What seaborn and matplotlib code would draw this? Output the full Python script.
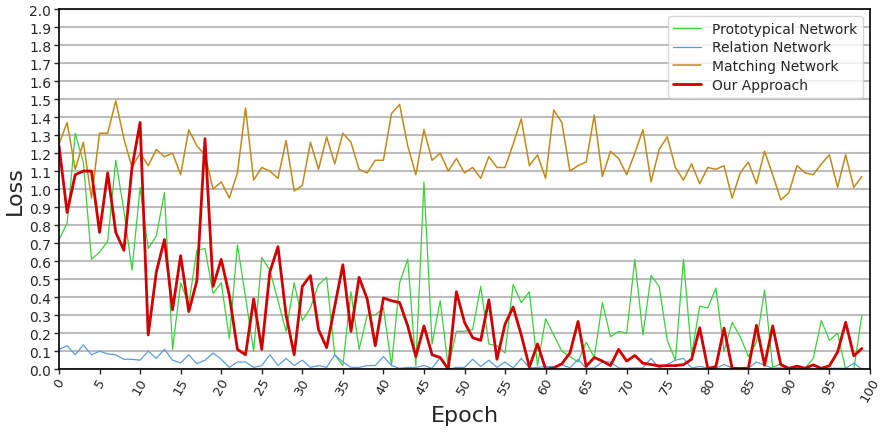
import numpy as np
import pandas as pd
import matplotlib
matplotlib.use("Agg")
import matplotlib.pyplot as plt
import seaborn as sns

epochs = list(range(100))

proto = [0.72, 0.81, 1.31, 1.15, 0.61, 0.65, 0.71, 1.16, 0.88, 0.55,
         1.01, 0.67, 0.74, 0.98, 0.11, 0.48, 0.36, 0.66, 0.67, 0.42,
         0.48, 0.17, 0.69, 0.40, 0.10, 0.62, 0.55, 0.38, 0.21, 0.48,
         0.27, 0.34, 0.47, 0.51, 0.08, 0.02, 0.43, 0.11, 0.30, 0.30,
         0.34, 0.02, 0.48, 0.61, 0.02, 1.04, 0.14, 0.38, 0.01, 0.21,
         0.21, 0.22, 0.46, 0.14, 0.13, 0.09, 0.47, 0.37, 0.43, 0.02,
         0.28, 0.19, 0.10, 0.07, 0.04, 0.15, 0.065, 0.37, 0.18, 0.21,
         0.20, 0.61, 0.19, 0.52, 0.46, 0.16, 0.05, 0.61, 0.08, 0.35,
         0.34, 0.45, 0.10, 0.26, 0.18, 0.07, 0.15, 0.44, 0.01, 0.03,
         0.005, 0.005, 0.005, 0.06, 0.27, 0.16, 0.20, 0.0, 0.0, 0.30]

relation = [0.11, 0.13, 0.08, 0.135, 0.08, 0.10, 0.085, 0.08, 0.055, 0.055,
            0.05, 0.10, 0.06, 0.11, 0.05, 0.035, 0.08, 0.03, 0.05, 0.09,
            0.055, 0.01, 0.04, 0.04, 0.01, 0.02, 0.08, 0.02, 0.06, 0.02,
            0.05, 0.01, 0.02, 0.01, 0.08, 0.04, 0.01, 0.01, 0.02, 0.02,
            0.07, 0.02, 0.005, 0.01, 0.01, 0.02, 0.005, 0.065, 0.0, 0.01,
            0.01, 0.055, 0.015, 0.05, 0.01, 0.04, 0.007, 0.06, 0.007, 0.01,
            0.015, 0.015, 0.026, 0.007, 0.055, 0.005, 0.007, 0.04, 0.04, 0.007,
            0.005, 0.007, 0.007, 0.06, 0.007, 0.026, 0.05, 0.06, 0.007, 0.015,
            0.007, 0.005, 0.026, 0.007, 0.005, 0.007, 0.04, 0.022, 0.005, 0.007,
            0.005, 0.005, 0.007, 0.022, 0.005, 0.005, 0.005, 0.005, 0.033, 0.0]

matching = [1.25, 1.37, 1.11, 1.26, 0.95, 1.31, 1.31, 1.49, 1.28, 1.12,
            1.20, 1.13, 1.22, 1.18, 1.20, 1.08, 1.33, 1.24, 1.19, 1.00,
            1.04, 0.95, 1.09, 1.45, 1.05, 1.12, 1.10, 1.06, 1.27, 0.99,
            1.02, 1.26, 1.11, 1.29, 1.14, 1.31, 1.26, 1.11, 1.09, 1.16,
            1.16, 1.42, 1.47, 1.24, 1.08, 1.33, 1.16, 1.20, 1.10, 1.17,
            1.09, 1.12, 1.06, 1.18, 1.12, 1.12, 1.25, 1.39, 1.13, 1.19,
            1.06, 1.44, 1.37, 1.10, 1.13, 1.15, 1.41, 1.07, 1.21, 1.17,
            1.08, 1.20, 1.33, 1.04, 1.22, 1.29, 1.12, 1.05, 1.14, 1.03,
            1.12, 1.11, 1.13, 0.95, 1.09, 1.15, 1.03, 1.21, 1.08, 0.94,
            0.98, 1.13, 1.09, 1.08, 1.14, 1.19, 1.01, 1.19, 1.01, 1.07]

ours = [1.24, 0.87, 1.08, 1.10, 1.10, 0.76, 1.09, 0.76, 0.66, 1.12,
        1.37, 0.19, 0.54, 0.72, 0.33, 0.63, 0.32, 0.49, 1.28, 0.46,
        0.61, 0.41, 0.11, 0.08, 0.39, 0.11, 0.54, 0.68, 0.30, 0.08,
        0.46, 0.52, 0.22, 0.12, 0.35, 0.58, 0.21, 0.51, 0.39, 0.13,
        0.395, 0.38, 0.37, 0.24, 0.07, 0.24, 0.08, 0.065, 0.0, 0.43,
        0.26, 0.175, 0.16, 0.385, 0.055, 0.25, 0.345, 0.19, 0.012, 0.14,
        0.0, 0.007, 0.03, 0.09, 0.265, 0.015, 0.065, 0.045, 0.02, 0.11,
        0.045, 0.076, 0.033, 0.026, 0.018, 0.02, 0.02, 0.025, 0.055, 0.23,
        0.004, 0.015, 0.228, 0.005, 0.004, 0.005, 0.244, 0.022, 0.24, 0.025,
        0.005, 0.017, 0.005, 0.024, 0.005, 0.019, 0.095, 0.26, 0.074, 0.115]

series_names = ["Prototypical Network", "Relation Network", "Matching Network", "Our Approach"]
series_values = [proto, relation, matching, ours]
colors = ["#3ccf3c", "#5b9ddb", "#c28a1a", "#d00000"]
widths = [0.9, 0.9, 1.1, 2.0]

sns.set_style("white")
plt.rcParams['font.family'] = ['DejaVu Sans']

fig = plt.figure(figsize=(8.82, 4.35), dpi=100)
ax = fig.add_axes([0.0669, 0.149, 0.9195, 0.828])

for name, vals, c, lw in zip(series_names, series_values, colors, widths):
    sns.lineplot(x=epochs, y=vals, ax=ax, color=c, linewidth=lw, label=name)

ax.set_xlim(0, 100)
ax.set_ylim(0, 2.0)
ax.set_xticks(np.arange(0, 101, 5))
ax.set_yticks(np.round(np.arange(0, 2.01, 0.1), 1))
ax.set_yticklabels([f"{v:.1f}" for v in np.arange(0, 2.01, 0.1)])
ax.tick_params(axis='x', labelrotation=60, labelsize=9.5, length=3.5, width=1,
               direction='out', bottom=True, pad=1)
ax.tick_params(axis='y', labelsize=10, length=3.5, width=1, direction='out', left=True, pad=2)
ax.grid(axis='y', color='#bdbdbd', linewidth=1.5)
ax.grid(axis='x', visible=False)
for s in ax.spines.values():
    s.set_color('black')
    s.set_linewidth(1.2)

ax.set_xlabel("Epoch", fontsize=16, labelpad=1)
ax.set_ylabel("Loss", fontsize=16, labelpad=3)

leg = ax.legend(loc='upper right', fontsize=10, frameon=True, fancybox=True,
                borderpad=0.4, handlelength=2.0, handletextpad=0.8, labelspacing=0.35)
leg.get_frame().set_edgecolor('#cccccc')

fig.savefig("out.png", dpi=100)
